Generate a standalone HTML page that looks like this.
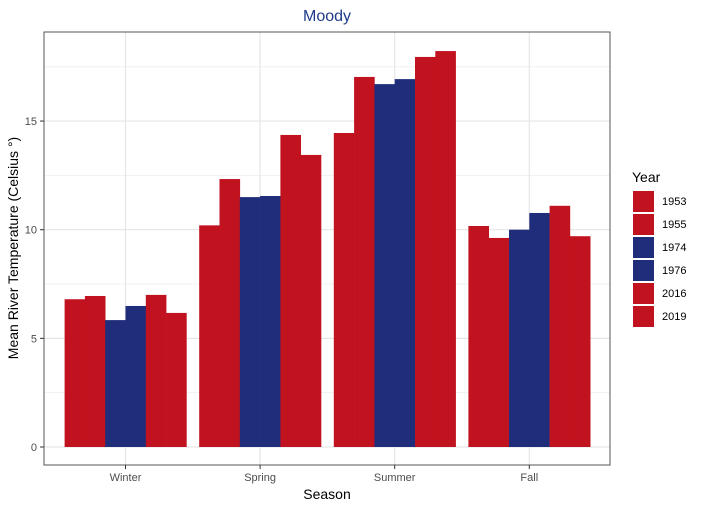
<!DOCTYPE html>
<html><head><meta charset="utf-8"><style>
body{margin:0;background:#fff;font-family:"Liberation Sans",sans-serif}
svg text{font-family:"Liberation Sans",sans-serif}
</style></head><body>
<svg id="chart" width="703" height="509" xmlns="http://www.w3.org/2000/svg">
<text x="327" y="21" text-anchor="middle" font-size="16" fill="#1f3a8a">Moody</text>
<g id="grid"></g>
<g id="bars"></g>
<rect x="44" y="32" width="566" height="433" fill="none" stroke="#555" stroke-width="1"/>
<g id="axes"></g>
<text x="327" y="499" text-anchor="middle" font-size="14" fill="#000">Season</text>
<text transform="translate(18,248) rotate(-90)" text-anchor="middle" font-size="14" fill="#000">Mean River Temperature (Celsius °)</text>
<g id="legend">
<text x="632" y="182" font-size="14" fill="#000">Year</text>
</g>
</svg>
<script>
const seasons=["Winter","Spring","Summer","Fall"];
const years=["1953","1955","1974","1976","2016","2019"];
const colors=["#c1121f","#c1121f","#1f2d7a","#1f2d7a","#c1121f","#c1121f"];
const v1953=[6.8,10.2,14.45,10.17];
const v1955=[6.95,12.33,17.03,9.62];
const v1974=[5.84,11.5,16.7,10.0];
const v1976=[6.49,11.55,16.93,10.77];
const v2016=[7.0,14.36,17.95,11.1];
const v2019=[6.17,13.44,18.22,9.7];
const series=[v1953,v1955,v1974,v1976,v2016,v2019];
const yTicks=[0,5,10,15];
const NS="http://www.w3.org/2000/svg";
const y=v=>447-v*21.73;
const xc=i=>125.5+i*134.6;
const bw=20.3;
function mk(t,a,p){const e=document.createElementNS(NS,t);for(const k in a)e.setAttribute(k,a[k]);p.appendChild(e);return e;}
const grid=document.getElementById('grid'),bars=document.getElementById('bars'),axes=document.getElementById('axes'),leg=document.getElementById('legend');
for(let v=2.5;v<19;v+=5){const l=mk('line',{x1:44,x2:610,y1:y(v),y2:y(v),stroke:'#f0f0f0','stroke-width':1},grid);

}
yTicks.forEach(v=>{const l=mk('line',{x1:44,x2:610,y1:y(v),y2:y(v),stroke:'#e6e6e6','stroke-width':1.2},grid);


const t=mk('line',{x1:40,x2:44,y1:y(v),y2:y(v),stroke:'#333'},axes);


const tx=mk('text',{x:37,y:y(v)+4,'text-anchor':'end','font-size':11,fill:'#4d4d4d'},axes);tx.textContent=v;

});
seasons.forEach((s,i)=>{const l=mk('line',{x1:xc(i),x2:xc(i),y1:32,y2:465,stroke:'#e6e6e6','stroke-width':1.2},grid);


const t=mk('line',{x1:xc(i),x2:xc(i),y1:465,y2:469,stroke:'#333'},axes);


const tx=mk('text',{x:xc(i),y:481,'text-anchor':'middle','font-size':11,fill:'#4d4d4d'},axes);tx.textContent=s;


series.forEach((ser,j)=>{const x0=xc(i)-3*bw+j*bw;const r=mk('rect',{x:x0,y:y(ser[i]),width:bw+0.3,height:y(0)-y(ser[i]),fill:colors[j]},bars);

});});
years.forEach((yr,j)=>{const r=mk('rect',{x:633,y:191+j*23,width:21,height:21,fill:colors[j]},leg);


const t=mk('text',{x:662,y:205+j*23,'font-size':11,fill:'#000'},leg);t.textContent=yr;

});
</script>
</body></html>
